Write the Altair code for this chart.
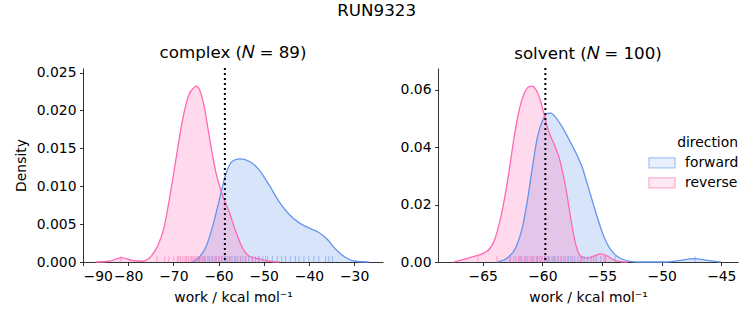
import altair as alt
import pandas as pd

FONT = "DejaVu Sans"
BLUE = "#6495ED"
PINK = "#FF69B4"
BLUE_FILL = "rgba(100,149,237,0.25)"
PINK_FILL = "rgba(255,105,180,0.25)"
directions = ["forward", "reverse"]

# ---------------- complex panel (KDE curves) ----------------
complex_fwd_work = [-65.81, -64.34, -62.86, -61.39, -59.91, -58.44, -56.96, -55.27, -53.27, -51.06,
                    -48.85, -46.64, -44.42, -42.21, -40.00, -37.79, -35.94, -34.10, -31.89, -29.68, -26.73]
complex_fwd_density = [0.0, 0.0006, 0.0019, 0.0045, 0.0080, 0.0115, 0.0133, 0.0136, 0.0133, 0.0122,
                       0.0102, 0.0080, 0.0063, 0.0052, 0.0045, 0.0039, 0.0030, 0.0017, 0.0006, 0.0001, 0.0]
complex_rev_work = [-87.20, -84.25, -81.52, -79.09, -76.87, -75.03, -73.56, -72.08, -70.97, -69.50,
                    -68.02, -66.55, -65.44, -64.93, -64.19, -63.23, -62.12, -60.65, -59.17, -57.70,
                    -56.22, -54.75, -53.27, -51.06, -48.85, -46.64]
complex_rev_density = [0.0, 0.0001, 0.00057, 0.0002, 0.0001, 0.0007, 0.0020, 0.0045, 0.0080, 0.0133,
                       0.0186, 0.0221, 0.0230, 0.0232, 0.0227, 0.0207, 0.0168, 0.0120, 0.0089, 0.0067,
                       0.0041, 0.0019, 0.0008, 0.0004, 0.0001, 0.0]
complex_fwd_rug = [-64.3, -63.2, -62.1, -61.4, -60.6, -59.9, -59.3, -58.7, -58.1, -57.6, -57.0, -56.4,
                   -55.8, -55.2, -54.6, -54.0, -53.3, -52.5, -51.8, -51.1, -50.2, -49.2, -48.1, -47.0,
                   -46.0, -45.2, -44.1, -43.0, -42.2, -41.1, -40.0, -38.9, -37.8, -36.3, -35.6, -34.8]
complex_rev_rug = [-81.6, -73.6, -71.9, -71.0, -69.9, -69.1, -68.8, -68.4, -67.9, -67.4, -67.1, -66.7,
                   -66.3, -66.0, -65.7, -65.4, -65.1, -64.7, -64.5, -64.2, -63.9, -63.6, -63.2, -62.9,
                   -62.4, -62.0, -61.5, -61.0, -60.5, -59.9, -59.2, -58.4, -57.3, -56.2, -55.1, -54.0,
                   -52.5, -51.1, -49.6]
complex_marker = [-58.6]

# ---------------- solvent panel ----------------
solvent_fwd_work = [-63.77, -62.93, -62.23, -61.68, -61.26, -60.84, -60.42, -60.00, -59.58, -59.30,
                    -58.88, -58.32, -57.63, -57.07, -56.65, -56.23, -55.81, -55.39, -54.97, -54.55,
                    -53.99, -53.44, -52.60, -52.04, -49.53, -48.41, -47.29, -46.17, -45.06]
solvent_fwd_density = [0.0, 0.0015, 0.0050, 0.0120, 0.0213, 0.0329, 0.0434, 0.0492, 0.0518, 0.0519,
                       0.0504, 0.0469, 0.0416, 0.0370, 0.0329, 0.0271, 0.0213, 0.0155, 0.0102, 0.0062,
                       0.0029, 0.0012, 0.0002, 0.0, 0.0, 0.0006, 0.0012, 0.0006, 0.0]
solvent_rev_work = [-67.40, -66.28, -65.45, -64.61, -64.05, -63.63, -63.21, -62.79, -62.37, -61.96,
                    -61.54, -61.12, -60.84, -60.56, -60.20, -59.86, -59.44, -59.02, -58.60, -58.32,
                    -58.04, -57.77, -57.49, -57.21, -56.79, -56.23, -55.67, -55.11, -54.55, -53.99,
                    -53.44, -52.88]
solvent_rev_density = [0.0, 0.0013, 0.0023, 0.0038, 0.0073, 0.0131, 0.0213, 0.0317, 0.0434, 0.0527,
                       0.0585, 0.0611, 0.0613, 0.0602, 0.0568, 0.0515, 0.0451, 0.0411, 0.0364, 0.0317,
                       0.0259, 0.0190, 0.0120, 0.0062, 0.0021, 0.0013, 0.0021, 0.0028, 0.0021, 0.0007,
                       0.0001, 0.0]
solvent_fwd_rug = [-62.7, -61.8, -61.3, -60.8, -60.4, -60.1, -59.8, -59.5, -59.2, -59.0, -58.7, -58.4,
                   -58.1, -57.8, -57.6, -57.3, -57.0, -56.7, -56.5, -56.2, -55.9, -55.5, -55.1, -54.7,
                   -53.9, -47.2]
solvent_rev_rug = [-65.4, -63.8, -62.7, -62.4, -62.2, -62.0, -61.9, -61.7, -61.5, -61.4, -61.2, -61.0,
                   -60.9, -60.7, -60.5, -60.4, -60.2, -60.0, -59.8, -59.6, -59.4, -59.1, -58.9, -58.7,
                   -58.5, -58.2, -57.9, -57.5, -56.8, -55.7, -54.8]
solvent_marker = [-59.75]

complex_ticks = [-90, -80, -70, -60, -50, -40, -30]
solvent_ticks = [-65, -60, -55, -50, -45]
complex_yticks = [0.0, 0.005, 0.010, 0.015, 0.020, 0.025]
solvent_yticks = [0.0, 0.02, 0.04, 0.06]


def curve_frame(fw, fd, rw, rd):
    a = pd.DataFrame({"work": fw, "density": fd, "direction": "forward"})
    b = pd.DataFrame({"work": rw, "density": rd, "direction": "reverse"})
    return pd.concat([a, b], ignore_index=True)


def rug_frame(f, r):
    a = pd.DataFrame({"work": f, "direction": "forward"})
    b = pd.DataFrame({"work": r, "direction": "reverse"})
    return pd.concat([a, b], ignore_index=True)


PATCH = "M-1.3,-0.5L1.3,-0.5L1.3,0.5L-1.3,0.5Z"
legend = alt.Legend(
    title="direction", orient="none", legendX=568, legendY=68,
    symbolType=PATCH, symbolSize=400, symbolStrokeWidth=1.3,
    labelOffset=12, rowPadding=1, titlePadding=2, titleAnchor="end",
)
fill_scale = alt.Scale(domain=directions, range=[BLUE_FILL, PINK_FILL])
stroke_scale = alt.Scale(domain=directions, range=[BLUE, PINK])

H = 194
FS = 13.9
TFS = 16.7


def panel(curves, rugs, marker, xdom, xticks, ydom, yticks, yfmt, ytitle, title):
    xenc = alt.X("work:Q", scale=alt.Scale(domain=xdom, nice=False, zero=False),
                 axis=alt.Axis(values=xticks, title="work / kcal mol⁻¹", titlePadding=8,
                               labelExpr="replace(datum.label, '-', '−')"))
    if ytitle:
        yaxis = alt.Axis(values=yticks, format=yfmt, title=ytitle, titlePadding=8)
    else:
        yaxis = alt.Axis(values=yticks, format=yfmt, title=None)
    yenc = alt.Y("density:Q", scale=alt.Scale(domain=ydom, nice=False), axis=yaxis, stack=None)
    fill = alt.Fill("direction:N", scale=fill_scale, legend=legend)
    stroke = alt.Stroke("direction:N", scale=stroke_scale, legend=legend)
    base = alt.Chart(curves)
    area = base.mark_area(interpolate="monotone", fillOpacity=1).encode(x=xenc, y=yenc, fill=fill)
    line = base.mark_line(strokeWidth=1.3, interpolate="monotone").encode(x=xenc, y=yenc, stroke=stroke)
    rug = alt.Chart(rugs).mark_rule(strokeWidth=1, opacity=0.55).encode(
        x=alt.X("work:Q"), y=alt.value(H - 6), y2=alt.value(H), stroke=stroke)
    vline = alt.Chart(pd.DataFrame({"work": marker})).mark_rule(
        color="black", strokeWidth=2, strokeDash=[2, 3]).encode(x=alt.X("work:Q"))
    return alt.layer(area, line, rug, vline).properties(
        width=300, height=H,
        title=alt.TitleParams(title, fontSize=TFS, font=FONT, fontWeight="normal", offset=4))


left = panel(curve_frame(complex_fwd_work, complex_fwd_density, complex_rev_work, complex_rev_density),
             rug_frame(complex_fwd_rug, complex_rev_rug), complex_marker,
             [-90, -23.6], complex_ticks, [0, 0.0256], complex_yticks, ".3f", "Density",
             "complex (𝑁 = 89)")
right = panel(curve_frame(solvent_fwd_work, solvent_fwd_density, solvent_rev_work, solvent_rev_density),
              rug_frame(solvent_fwd_rug, solvent_rev_rug), solvent_marker,
              [-68.75, -43.6], solvent_ticks, [0, 0.0676], solvent_yticks, ".2f", None,
              "solvent (𝑁 = 100)")

chart = alt.hconcat(left, right, spacing=17).resolve_scale(
    x="independent", y="independent"
).properties(
    title=alt.TitleParams("RUN9323", fontSize=TFS, font=FONT, fontWeight="normal", anchor="middle", offset=25),
    padding={"left": 14, "top": 3, "right": 5, "bottom": 5},
    background="white",
).configure_view(stroke=None).configure_axis(
    labelFont=FONT, labelFontSize=FS, labelColor="black",
    titleFont=FONT, titleFontSize=FS, titleFontWeight="normal", titleColor="black",
    domainColor="black", tickColor="black", domainWidth=0.8, tickWidth=0.8,
    tickSize=3.5, labelPadding=3.5, grid=False,
).configure_legend(
    labelFont=FONT, labelFontSize=FS, labelColor="black",
    titleFont=FONT, titleFontSize=FS, titleFontWeight="normal", titleColor="black",
)

chart.save("out.html", embed_options={"renderer": "svg", "actions": False})
